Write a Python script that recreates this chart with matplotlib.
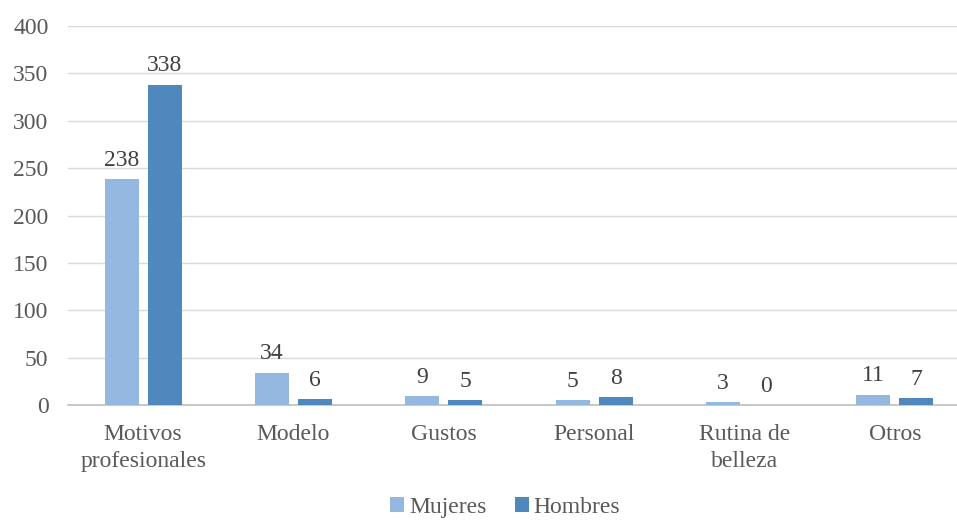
import numpy as np
import matplotlib.pyplot as plt

categorias = ['Motivos\nprofesionales', 'Modelo', 'Gustos', 'Personal', 'Rutina de\nbelleza', 'Otros']
mujeres = [238, 34, 9, 5, 3, 11]
hombres = [338, 6, 5, 8, 0, 7]

plt.rcParams['font.family'] = ['Liberation Serif', 'DejaVu Serif']

fig = plt.figure(figsize=(9.57, 5.22), dpi=100)
ax = fig.add_axes([68 / 957, 117 / 522, 902 / 957, 379 / 522])

x = np.arange(len(categorias))
w = 0.227
off = 0.143
b1 = ax.bar(x - off, mujeres, w, color='#95B8E0', label='Mujeres', zorder=3)
b2 = ax.bar(x + off, hombres, w, color='#4F88BD', label='Hombres', zorder=3)

for bars, vals in [(b1, mujeres), (b2, hombres)]:
    for b, v in zip(bars, vals):
        ax.annotate(str(v), (b.get_x() + b.get_width() / 2, v), xytext=(0, 6),
                    textcoords='offset points', ha='center', va='bottom',
                    fontsize=17, color='#404040')

ax.set_xlim(-0.5, len(categorias) - 0.5)
ax.set_ylim(0, 400)
ax.set_yticks(range(0, 401, 50))
ax.set_xticks(x)
ax.set_xticklabels(categorias, linespacing=1.35)
ax.grid(axis='y', color='#D9D9D9', linewidth=1, zorder=0)
for s in ['top', 'right', 'left']:
    ax.spines[s].set_visible(False)
ax.spines['bottom'].set_color('#BFBFBF')
ax.spines['bottom'].set_linewidth(1.2)
ax.tick_params(axis='both', length=0, labelsize=17, colors='#595959')
ax.tick_params(axis='x', pad=14)
ax.tick_params(axis='y', pad=14)

fig.legend(handles=[b1, b2], loc='lower center', bbox_to_anchor=(0.528, -0.033), ncol=2,
           frameon=False, fontsize=17, handlelength=0.6, handleheight=0.6,
           handletextpad=0.2, columnspacing=1.2, labelcolor='#595959')

fig.savefig('out.png', dpi=100)
